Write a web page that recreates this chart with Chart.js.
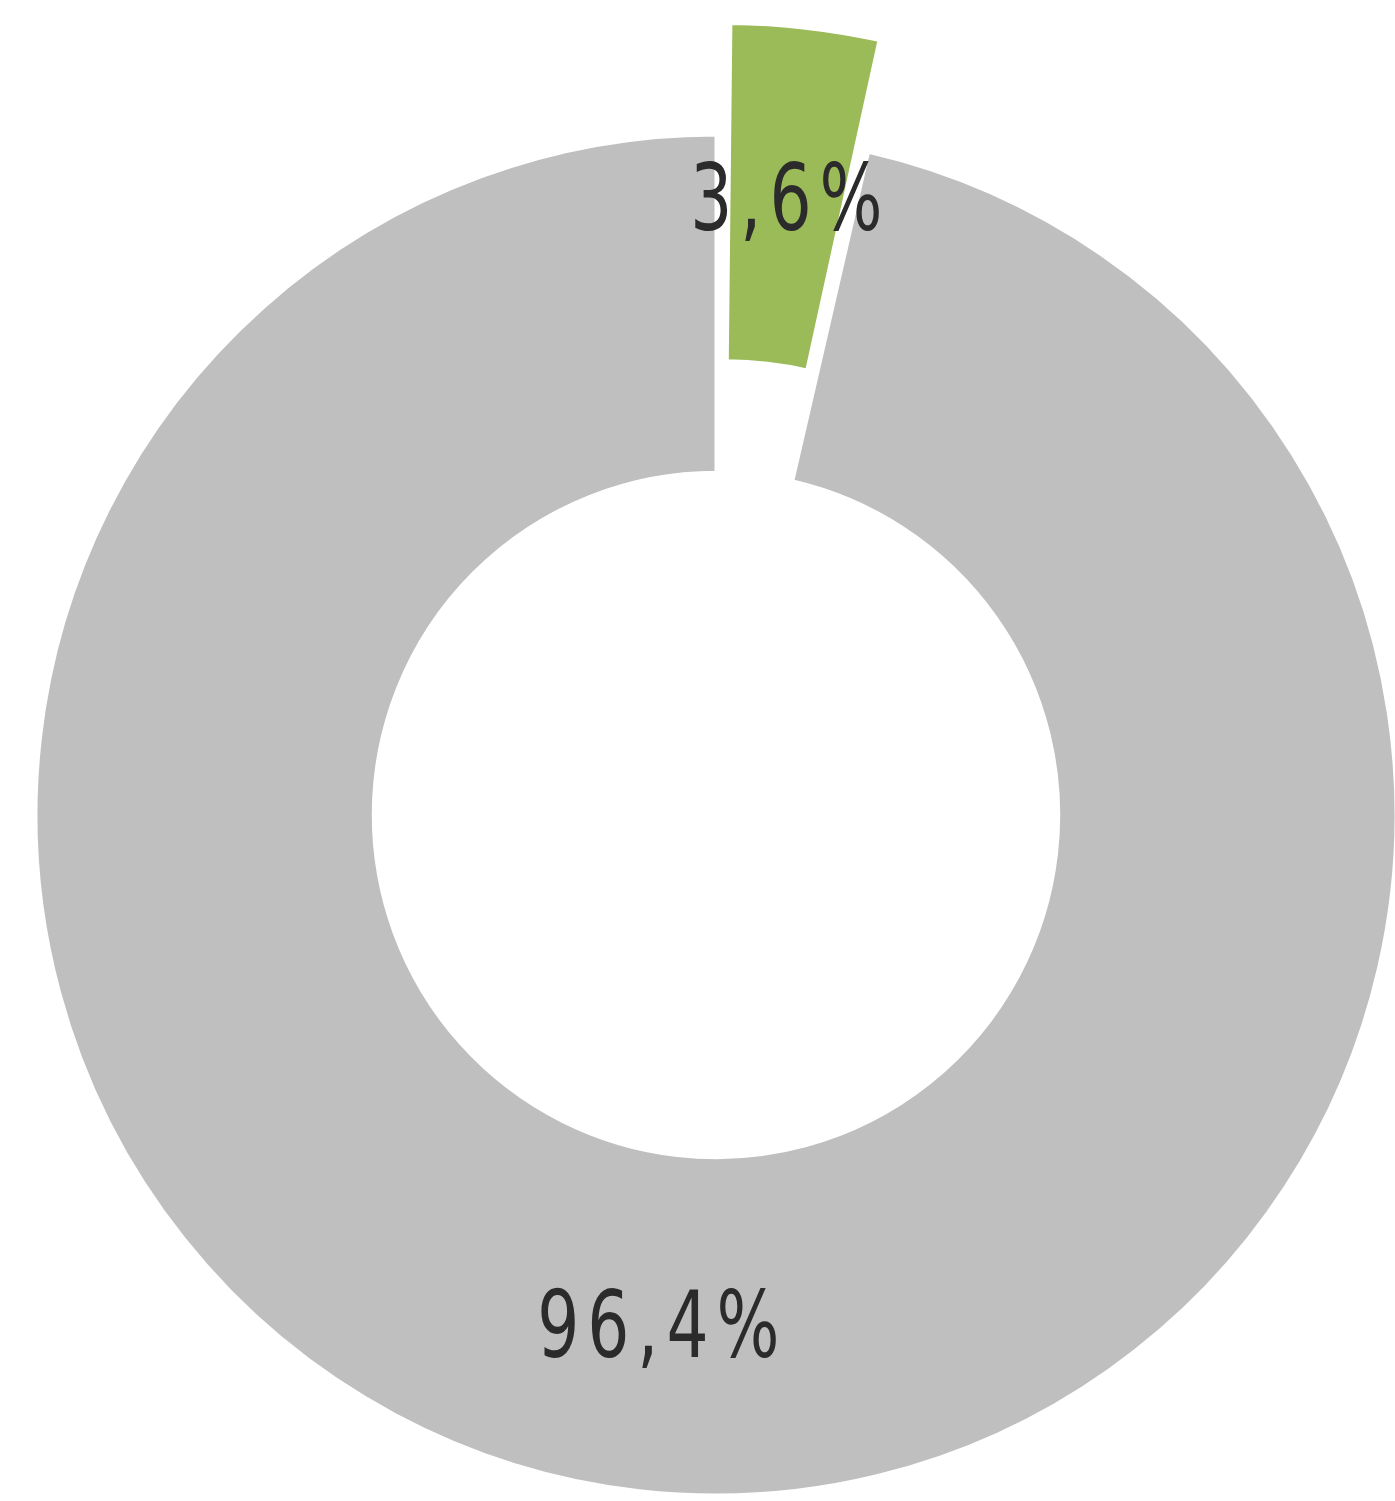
<!DOCTYPE html>
<html>
<head>
<meta charset="utf-8">
<script src="https://cdn.jsdelivr.net/npm/chart.js@4/dist/chart.umd.min.js"></script>
<style>
  html, body { margin: 0; padding: 0; background: #ffffff; }
  #wrap { width: 1395px; height: 1501px; position: relative; }
</style>
</head>
<body>
<div id="wrap"><canvas id="c"></canvas></div>
<script>
const categories = ["Share A", "Share B"];
const values = [3.6, 96.4];
const valueLabels = ["3,6%", "96,4%"];
const sliceColors = ["#9BBB59", "#BFBFBF"];
const sliceOffsets = [252, 0];

const labelPlugin = {
  id: 'sliceLabels',
  afterDatasetsDraw(chart) {
    const ctx = chart.ctx;
    const meta = chart.getDatasetMeta(0);
    const sx = 0.8, ls = 10;
    meta.data.forEach((arc, i) => {
      const p = arc.getProps(['x', 'y', 'startAngle', 'endAngle', 'innerRadius', 'outerRadius', 'circumference'], true);
      const mid = (p.startAngle + p.endAngle) / 2;
      const r = (p.innerRadius + p.outerRadius) / 2;
      // Chart.js v4 arc: translate by offset/4 and grow radii by (offset/4)*fix
      const o = (arc.options.offset || 0) / 4;
      const fix = 1 - Math.sin(Math.min(Math.PI, p.circumference || 0));
      const shift = o + o * fix;
      const x = p.x + Math.cos(mid) * (r + shift);
      const y = p.y + Math.sin(mid) * (r + shift) + 10;
      ctx.save();
      ctx.font = '400 92px "DejaVu Sans Condensed", "DejaVu Sans", sans-serif';
      ctx.fillStyle = '#2b2b2b';
      ctx.textBaseline = 'middle';
      ctx.textAlign = 'left';
      ctx.translate(x, y);
      ctx.scale(sx, 1);
      if ('letterSpacing' in ctx) ctx.letterSpacing = ls + 'px';
      const w = ctx.measureText(valueLabels[i]).width - ls;
      ctx.fillText(valueLabels[i], -w / 2, 0);
      ctx.restore();
    });
  }
};

new Chart(document.getElementById('c'), {
  type: 'doughnut',
  data: {
    labels: categories,
    datasets: [{
      data: values,
      backgroundColor: sliceColors,
      borderColor: '#ffffff',
      borderWidth: 3,
      offset: sliceOffsets,
      clip: false
    }]
  },
  options: {
    responsive: true,
    maintainAspectRatio: false,
    animation: false,
    radius: 680,
    cutout: '50.4%',
    layout: { padding: { left: 37, top: 129, right: 0, bottom: 0 } },
    plugins: {
      legend: { display: false },
      tooltip: { enabled: false }
    }
  },
  plugins: [labelPlugin]
});
</script>
</body>
</html>
